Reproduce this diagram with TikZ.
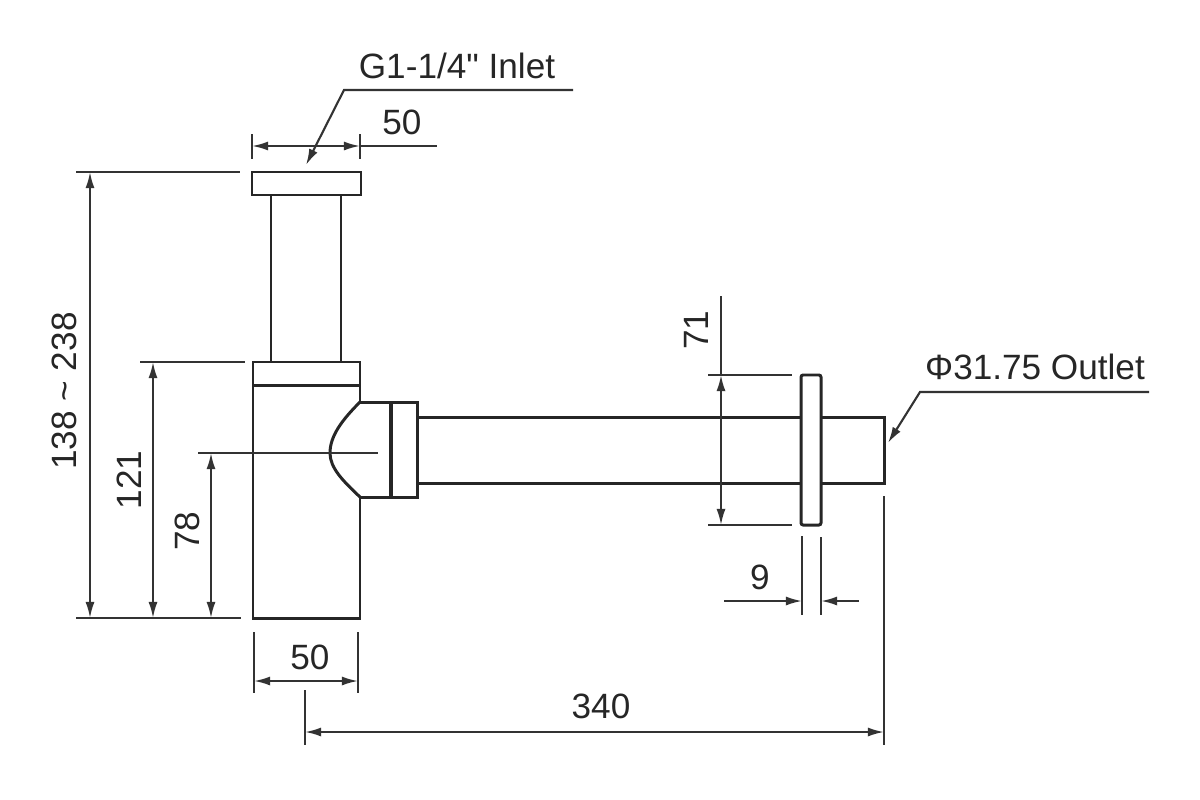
\documentclass[tikz,border=0pt]{standalone}
\usepackage{fontspec}
\newfontfamily\labelfont{Liberation Sans}
\usetikzlibrary{arrows.meta}
\tikzset{
	part/.style={line width=0.85pt,draw=black!85},
	dimline/.style={line width=0.6pt,draw=black!80,>={Latex[length=4.6pt,width=2.6pt]}},
	dimtext/.style={anchor=base,inner sep=0pt,font=\labelfont\fontsize{10}{12}\selectfont,text=black!85},
}
\begin{document}
\begin{tikzpicture}[x=0.01cm,y=-0.01cm]
					\useasboundingbox (0, 0) rectangle (1200, 800);
					% Inlet cap and tube
					\draw[part] (252, 172) rectangle (361, 195);
					\draw[part] (271, 195) -- (271, 362);
					\draw[part] (341, 195) -- (341, 362);
					% Body
					\draw[part] (360, 402) -- (360, 362) -- (253, 362) -- (253, 618) -- (360, 618) -- (360, 497);
					\draw[part] (253, 385) -- (360, 385);
					\draw[part] (360, 402) .. controls (342, 420) and (330, 436) .. (330, 453) .. controls (330, 468) and (343, 481) .. (360, 497);
					% Side outlet and nut
					\draw[part] (360, 402) -- (417, 402) -- (417, 497) -- (360, 497);
					\draw[part,line width=1.1pt] (391, 402) -- (391, 497);
					% Pipe and flange
					\draw[part] (417, 417) -- (801, 417);
					\draw[part] (417, 483) -- (801, 483);
					\draw[part] (821, 417) -- (884, 417) -- (884, 483) -- (821, 483);
					\draw[part,rounded corners=0.6pt] (801, 375) rectangle (821, 525);
					% Extension lines
					\draw[dimline] (76, 172) -- (240, 172);
					\draw[dimline] (140, 362) -- (245, 362);
					\draw[dimline] (198, 453) -- (378, 453);
					\draw[dimline] (76, 618) -- (241, 618);
					\draw[dimline] (252, 134) -- (252, 159);
					\draw[dimline] (360, 134) -- (360, 159);
					\draw[dimline] (254, 632) -- (254, 693);
					\draw[dimline] (358, 632) -- (358, 693);
					\draw[dimline] (305, 690) -- (305, 745);
					\draw[dimline] (884, 496) -- (884, 745);
					\draw[dimline] (708, 375) -- (792, 375);
					\draw[dimline] (708, 525) -- (792, 525);
					\draw[dimline] (802, 536) -- (802, 615);
					\draw[dimline] (821, 537) -- (821, 615);
					% Dimensions
					\coordinate (capL) at (252, 146);
					\coordinate (capR) at (360, 146);
					\coordinate (capEnd) at (437, 146);
					\draw[dimline,<->] (capL) -- (capR);
					\draw[dimline] (capR) -- (capEnd);
					\node[dimtext] (capText) at (402, 134) {50};
					\coordinate (totalT) at (90, 172);
					\coordinate (totalB) at (90, 618);
					\draw[dimline,<->] (totalT) -- (totalB);
					\node[dimtext,rotate=90] (totalText) at (76, 391) {138 \textasciitilde{} 238};
					\coordinate (bodyT) at (153, 362);
					\coordinate (bodyB) at (153, 618);
					\draw[dimline,<->] (bodyT) -- (bodyB);
					\node[dimtext,rotate=90] (bodyText) at (141, 480) {121};
					\coordinate (axisT) at (211, 453);
					\coordinate (axisB) at (211, 618);
					\draw[dimline,<->] (axisT) -- (axisB);
					\node[dimtext,rotate=90] (axisText) at (199, 531) {78};
					\coordinate (baseL) at (254, 681);
					\coordinate (baseR) at (358, 681);
					\draw[dimline,<->] (baseL) -- (baseR);
					\node[dimtext] (baseText) at (310, 669) {50};
					\coordinate (runL) at (305, 732);
					\coordinate (runR) at (884, 732);
					\draw[dimline,<->] (runL) -- (runR);
					\node[dimtext] (runText) at (601, 718) {340};
					\coordinate (flangeT) at (721, 375);
					\coordinate (flangeB) at (721, 525);
					\coordinate (flangeEnd) at (721, 296);
					\draw[dimline,<->] (flangeT) -- (flangeB);
					\draw[dimline] (flangeT) -- (flangeEnd);
					\node[dimtext,rotate=90] (flangeText) at (708, 330) {71};
					\coordinate (thickL) at (802, 601);
					\coordinate (thickR) at (821, 601);
					\coordinate (thickLEnd) at (724, 601);
					\coordinate (thickREnd) at (859, 601);
					\draw[dimline,->] (thickLEnd) -- (thickL);
					\draw[dimline,->] (thickREnd) -- (thickR);
					\node[dimtext] (thickText) at (760, 589) {9};
					% Leaders
					\coordinate (inEnd) at (573, 90);
					\coordinate (inBend) at (344, 90);
					\coordinate (inTip) at (306, 165);
					\draw[dimline,->] (inEnd) -- (inBend) -- (inTip);
					\node[dimtext] (inText) at (457, 78) {G1-1/4" Inlet};
					\coordinate (outEnd) at (1149, 392);
					\coordinate (outBend) at (920, 392);
					\coordinate (outTip) at (888, 443);
					\draw[dimline,->] (outEnd) -- (outBend) -- (outTip);
					\node[dimtext] (outText) at (1035, 379) {Φ31.75 Outlet};
				\end{tikzpicture}
\end{document}
